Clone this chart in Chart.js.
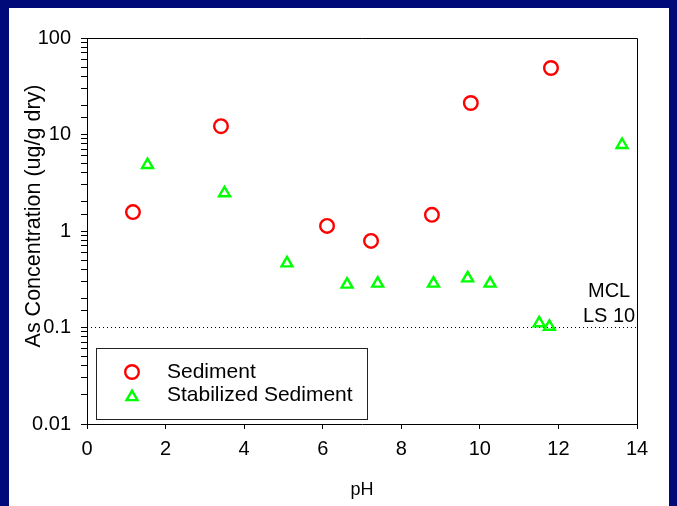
<!DOCTYPE html>
<html><head><meta charset="utf-8">
<script src="https://cdn.jsdelivr.net/npm/chart.js@4/dist/chart.umd.min.js"></script>
<style>
html,body{margin:0;padding:0;background:#000A78;width:677px;height:506px;overflow:hidden}
#wrap{position:absolute;left:9px;top:8px;width:660px;height:498px;background:#fff}
</style></head><body>
<div id="wrap"><canvas id="c"></canvas></div>
<script>
const sedimentPH = [1.17, 3.41, 6.11, 7.23, 8.78, 9.77, 11.81];
const sedimentAs = [1.57, 12.2, 1.13, 0.79, 1.47, 21.2, 48.9];
const stabilizedPH = [1.54, 3.50, 5.09, 6.62, 7.40, 8.82, 9.69, 10.26, 11.51, 11.77, 13.62];
const stabilizedAs = [4.85, 2.47, 0.464, 0.279, 0.286, 0.286, 0.324, 0.286, 0.111, 0.102, 7.82];
const mclPH = [0, 14];
const mclAs = [0.1, 0.1];
const mclLabels = ['MCL', 'LS 10'];
const xTicks = [0, 2, 4, 6, 8, 10, 12, 14];
const yTicks = [0.01, 0.1, 1, 10, 100];
const seriesNames = ['Sediment', 'Stabilized Sediment'];
const yTitle = 'As Concentration (ug/g dry)';

const FONT = "'Liberation Sans', Arial, sans-serif";
const pts = (xs, ys) => xs.map((x, i) => ({x: x, y: ys[i]}));

const frame = {
  id: 'frame',
  afterDatasetsDraw(chart) {
    const {ctx, chartArea: a, scales} = chart;
    ctx.save();
    ctx.strokeStyle = '#000';
    ctx.lineWidth = 1;
    ctx.beginPath();
    ctx.moveTo(a.left, a.top + 0.5);
    ctx.lineTo(a.right + 0.5, a.top + 0.5);
    ctx.lineTo(a.right + 0.5, a.bottom);
    ctx.stroke();
    // y axis title
    ctx.save();
    ctx.translate(25, (a.top + a.bottom) / 2 - 15);
    ctx.rotate(-Math.PI / 2);
    ctx.fillStyle = '#000';
    ctx.font = '21.5px ' + FONT;
    ctx.textAlign = 'center';
    ctx.textBaseline = 'middle';
    ctx.fillText(yTitle, 0, 0);
    ctx.restore();
    // MCL label
    const xs = scales.x, ys = scales.y;
    const lx = xs.getPixelForValue(13.29);
    const ly = ys.getPixelForValue(mclAs[0]);
    ctx.fillStyle = '#000';
    ctx.font = '20px ' + FONT;
    ctx.textAlign = 'center';
    ctx.textBaseline = 'middle';
    ctx.fillText(mclLabels[0], lx, ly - 36);
    ctx.fillText(mclLabels[1], lx, ly - 11);
    // legend
    const bx = a.left + 9, by = a.bottom - 76, bw = 271, bh = 71;
    ctx.fillStyle = '#fff';
    ctx.fillRect(bx, by, bw, bh);
    ctx.strokeStyle = '#222';
    ctx.strokeRect(bx + 0.5, by + 0.5, bw, bh);
    const rows = [by + 24, by + 47.5];
    chart.data.datasets.slice(0, 2).forEach((ds, i) => {
      const mx = bx + 36, my = rows[i];
      const opt = {pointStyle: ds.pointStyle, radius: ds.pointRadius, borderWidth: ds.borderWidth, rotation: 0};
      ctx.save();
      ctx.strokeStyle = ds.borderColor;
      ctx.fillStyle = 'rgba(0,0,0,0)';
      ctx.lineWidth = ds.borderWidth;
      Chart.helpers.drawPoint(ctx, opt, mx, my + (ds.pointStyle === 'triangle' ? 1.5 : 0));
      ctx.restore();
      ctx.fillStyle = '#000';
      ctx.font = '21px ' + FONT;
      ctx.textAlign = 'left';
      ctx.textBaseline = 'middle';
      ctx.fillText(ds.label, bx + 71, my);
    });
    ctx.restore();
  }
};

new Chart(document.getElementById('c'), {
  type: 'scatter',
  data: {
    datasets: [
      {label: seriesNames[0], data: pts(sedimentPH, sedimentAs), pointStyle: 'circle', pointRadius: 6.8,
       borderColor: '#FF0000', backgroundColor: 'rgba(0,0,0,0)', borderWidth: 2.4, order: 1},
      {label: seriesNames[1], data: pts(stabilizedPH, stabilizedAs), pointStyle: 'triangle', pointRadius: 6.3,
       borderColor: '#00FF00', backgroundColor: 'rgba(0,0,0,0)', borderWidth: 2.4, order: 2},
      {label: 'MCL', type: 'line', data: pts(mclPH, mclAs), borderColor: '#000', borderWidth: 1,
       borderDash: [1, 3], pointRadius: 0, fill: false, order: 3}
    ]
  },
  options: {
    responsive: true,
    maintainAspectRatio: false,
    animation: false,
    events: [],
    layout: {padding: {top: 30, right: 32, left: 0, bottom: 0}},
    plugins: {legend: {display: false}, tooltip: {enabled: false}},
    scales: {
      x: {
        type: 'linear', min: xTicks[0], max: xTicks[xTicks.length - 1],
        afterFit(s) { s.height = 82; },
        afterBuildTicks(s) { s.ticks = xTicks.map(v => ({value: v})); },
        grid: {drawOnChartArea: false, tickLength: 5, color: '#000', tickColor: '#000'},
        border: {color: '#000', width: 1},
        ticks: {color: '#000', font: {family: FONT, size: 20}, padding: 8, maxRotation: 0},
        title: {display: true, text: 'pH', color: '#000', font: {family: FONT, size: 18}, padding: {top: 0, bottom: 5}}
      },
      y: {
        type: 'logarithmic', min: yTicks[0], max: yTicks[yTicks.length - 1],
        afterFit(s) { s.width = 78; },
        grid: {drawOnChartArea: false, tickLength: 6, color: '#000', tickColor: '#000'},
        border: {color: '#000', width: 1},
        ticks: {
          color: '#000', font: {family: FONT, size: 20}, padding: 10, autoSkip: false,
          callback(v) {
            const t = yTicks.find(t => Math.abs(Math.log10(v) - Math.log10(t)) < 1e-6);
            return t === undefined ? '' : String(t);
          }
        },
        title: {display: false}
      }
    }
  },
  plugins: [frame]
});
</script>
</body></html>
